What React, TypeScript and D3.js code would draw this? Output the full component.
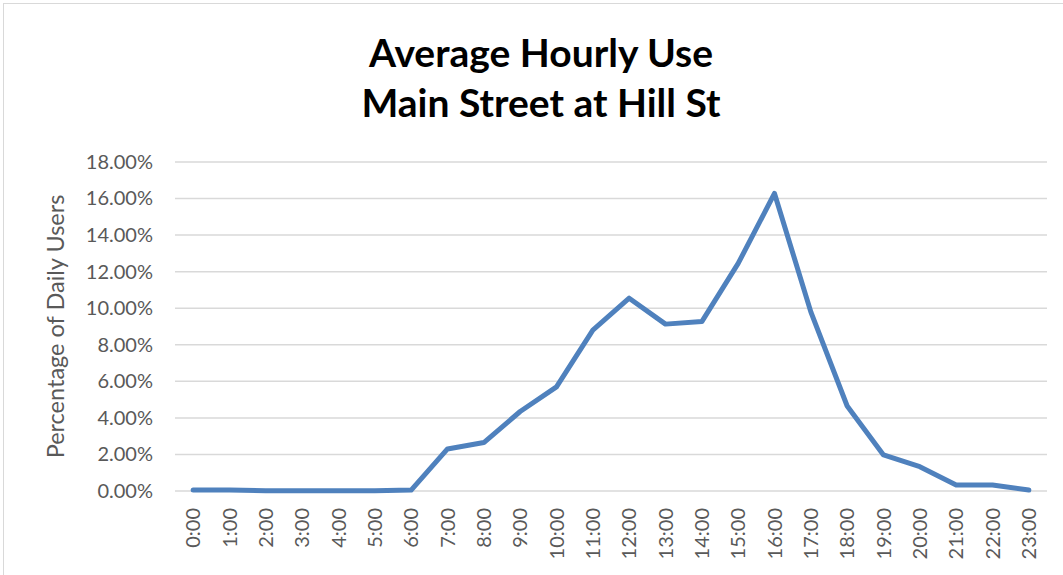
import React, { useEffect, useRef } from "react";
import * as d3 from "d3";

// chart data
const hours = [
  "0:00", "1:00", "2:00", "3:00", "4:00", "5:00", "6:00", "7:00", "8:00", "9:00", "10:00", "11:00",
  "12:00", "13:00", "14:00", "15:00", "16:00", "17:00", "18:00", "19:00", "20:00", "21:00", "22:00", "23:00",
];
const usage = [
  0.05, 0.05, 0.02, 0.02, 0.02, 0.02, 0.05, 2.3, 2.65, 4.35, 5.7, 8.8,
  10.55, 9.13, 9.27, 12.45, 16.28, 9.8, 4.65, 1.97, 1.33, 0.33, 0.33, 0.05,
];
const yTicks = [0, 2, 4, 6, 8, 10, 12, 14, 16, 18];
const titleLines = ["Average Hourly Use", "Main Street at Hill St"];

const W = 1063;
const H = 575;

const App: React.FC = () => {
  const svgRef = useRef<SVGSVGElement | null>(null);

  useEffect(() => {
    const svg = d3.select(svgRef.current);
    svg.selectAll("*").remove();

    const margin = { top: 162, right: 16, bottom: 84, left: 175 };
    const innerWidth = W - margin.left - margin.right;
    const innerHeight = H - margin.top - margin.bottom;

    // outer frame
    svg
      .append("rect")
      .attr("x", 3.5)
      .attr("y", 3.5)
      .attr("width", W + 10)
      .attr("height", H + 10)
      .attr("fill", "#fff")
      .attr("stroke", "#d9d9d9")
      .attr("stroke-width", 1);

    // title
    svg
      .selectAll(".title")
      .data(titleLines)
      .enter()
      .append("text")
      .attr("class", "title")
      .attr("x", 541)
      .attr("y", (d, i) => 67 + i * 50)
      .attr("text-anchor", "middle")
      .style("font-family", "Lato, 'Open Sans', sans-serif")
      .style("font-weight", "bold")
      .style("font-size", "39px")
      .attr("fill", "#000")
      .text((d) => d);

    const g = svg.append("g").attr("transform", `translate(${margin.left},${margin.top})`);

    const x = d3.scaleBand().domain(hours).range([0, innerWidth]);
    const y = d3.scaleLinear().domain([0, 18]).range([innerHeight, 0]);

    // gridlines
    g.selectAll(".grid")
      .data(yTicks)
      .enter()
      .append("line")
      .attr("x1", 0)
      .attr("x2", innerWidth)
      .attr("y1", (d) => y(d))
      .attr("y2", (d) => y(d))
      .attr("stroke", "#d9d9d9")
      .attr("stroke-width", 1.5);

    // y axis labels
    const yAxis = g
      .append("g")
      .call(
        d3
          .axisLeft(y)
          .tickValues(yTicks)
          .tickSize(0)
          .tickPadding(22)
          .tickFormat((d) => `${(d as number).toFixed(2)}%`)
      );
    yAxis.select(".domain").remove();
    yAxis
      .selectAll("text")
      .style("font-family", "Lato, 'Open Sans', sans-serif")
      .style("font-size", "20px")
      .attr("fill", "#595959");

    // x axis labels
    const xAxis = g
      .append("g")
      .attr("transform", `translate(0,${innerHeight})`)
      .call(d3.axisBottom(x).tickSize(0).tickPadding(0));
    xAxis.select(".domain").remove();
    xAxis
      .selectAll("text")
      .attr("transform", "rotate(-90)")
      .attr("x", -17)
      .attr("y", 0)
      .attr("dy", "0.35em")
      .style("text-anchor", "end")
      .style("font-family", "Lato, 'Open Sans', sans-serif")
      .style("font-size", "20px")
      .attr("fill", "#595959");

    // y axis title
    g.append("text")
      .attr("transform", "rotate(-90)")
      .attr("x", -innerHeight / 2)
      .attr("y", -111)
      .attr("text-anchor", "middle")
      .style("font-family", "Lato, 'Open Sans', sans-serif")
      .style("font-size", "23.5px")
      .attr("fill", "#595959")
      .text("Percentage of Daily Users");

    // line
    const line = d3
      .line<number>()
      .x((d, i) => (x(hours[i]) as number) + x.bandwidth() / 2)
      .y((d) => y(d));

    g.append("path")
      .datum(usage)
      .attr("d", line)
      .attr("fill", "none")
      .attr("stroke", "#4f81bd")
      .attr("stroke-width", 5)
      .attr("stroke-linejoin", "round")
      .attr("stroke-linecap", "round");
  }, []);

  return (
    <svg
      ref={svgRef}
      width={W}
      height={H}
      style={{ position: "absolute", left: 0, top: 0, background: "#fff" }}
    />
  );
};

export default App;
